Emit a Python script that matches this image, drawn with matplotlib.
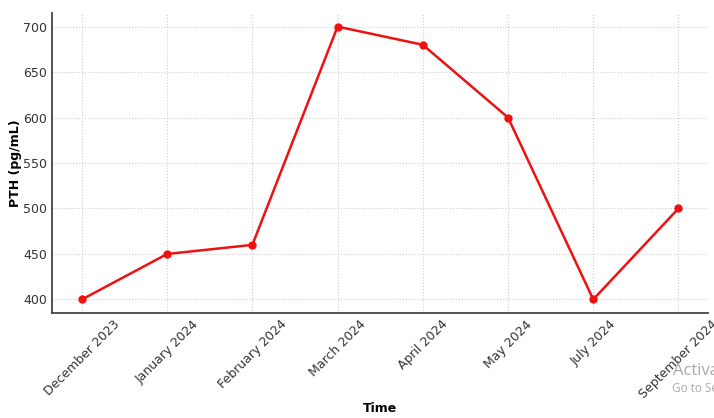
import matplotlib
matplotlib.use("Agg")
import matplotlib.pyplot as plt

months = ["December 2023", "January 2024", "February 2024", "March 2024",
          "April 2024", "May 2024", "July 2024", "September 2024"]
pth = [400, 450, 460, 700, 680, 600, 400, 500]
yticks = [400, 450, 500, 550, 600, 650, 700]

fig = plt.figure(figsize=(7.14, 4.18), dpi=100)
ax = fig.add_axes([0.073, 0.251, 0.919, 0.718])
x = list(range(len(months)))
ax.plot(x, pth, color="#ee1111", linewidth=1.8, marker="o", markersize=5)
ax.set_xticks(x)
ax.set_xticklabels(months, rotation=45, ha="center", fontsize=9, color="#333333")
ax.set_yticks(yticks)
ax.tick_params(axis="y", labelsize=9, labelcolor="#333333")
ax.tick_params(axis="both", length=0, pad=3.5)
ax.set_xlim(-0.35, 7.35)
ax.set_ylim(385, 715)
ax.grid(True, linestyle=":", color="#cccccc", linewidth=0.8)
ax.spines["top"].set_visible(False)
ax.spines["right"].set_visible(False)
for s in ["left", "bottom"]:
    ax.spines[s].set_color("#444444")
    ax.spines[s].set_linewidth(1.3)
ax.set_ylabel("PTH (pg/mL)", fontweight="bold", fontsize=9, labelpad=1)
ax.set_xlabel("Time", fontweight="bold", fontsize=9)
ax.xaxis.set_label_coords(0.5, -0.297)
fig.text(0.943, 0.103, "Activate Windows", fontsize=12, color="#aaaaaa", family="Open Sans")
fig.text(0.941, 0.062, "Go to Settings", fontsize=8.5, color="#aaaaaa", family="Open Sans")
fig.savefig("out.png", dpi=100)
